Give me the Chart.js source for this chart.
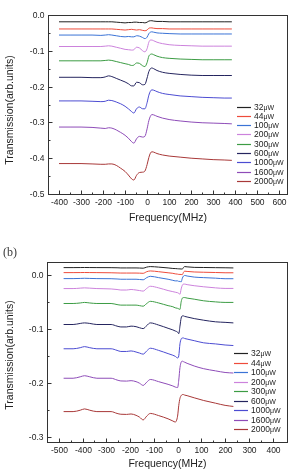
<!DOCTYPE html>
<html>
<head>
<meta charset="utf-8">
<script src="https://cdn.jsdelivr.net/npm/chart.js@4.4.0/dist/chart.umd.min.js"></script>
<style>
html, body { margin: 0; padding: 0; background: #fff; }
body { width: 289px; height: 476px; position: relative; overflow: hidden; }
canvas { position: absolute; left: 0; }
#chartA { top: 0; }
#chartB { top: 240px; }
</style>
</head>
<body>
<canvas id="chartA" width="289" height="230"></canvas>
<canvas id="chartB" width="289" height="236"></canvas>
<script>
// series names + colours (same for both panels)
const powers = ['32', '44', '100', '200', '300', '600', '1000', '1600', '2000']
const colors = ['#222222', '#ee4b3b', '#3b73d6', '#cc82dc', '#3c9c44', '#25255f', '#4c4cd2', '#8e4cb8', '#a83838']

// panel (a)
const freqA = [-400, -350, -300, -250, -210, -190, -175, -160, -140, -120, -100, -85, -70, -60, -48, -35, -20, -10, 0, 8, 15, 22, 30, 45, 70, 100, 150, 200, 250, 300, 350, 385]
const a32 = [-0.019, -0.019, -0.019, -0.019, -0.019, -0.019, -0.019, -0.019, -0.020, -0.021, -0.022, -0.021, -0.021, -0.020, -0.020, -0.021, -0.021, -0.022, -0.020, -0.017, -0.016, -0.016, -0.017, -0.018, -0.018, -0.019, -0.019, -0.019, -0.019, -0.019, -0.019, -0.019]
const a44 = [-0.039, -0.039, -0.039, -0.039, -0.039, -0.039, -0.039, -0.039, -0.040, -0.041, -0.042, -0.041, -0.040, -0.041, -0.042, -0.041, -0.043, -0.044, -0.042, -0.037, -0.036, -0.036, -0.037, -0.038, -0.038, -0.039, -0.039, -0.039, -0.039, -0.039, -0.039, -0.039]
const a100 = [-0.056, -0.056, -0.056, -0.056, -0.057, -0.056, -0.055, -0.056, -0.058, -0.060, -0.061, -0.060, -0.061, -0.061, -0.058, -0.059, -0.063, -0.066, -0.062, -0.052, -0.048, -0.047, -0.048, -0.050, -0.051, -0.052, -0.053, -0.053, -0.053, -0.053, -0.053, -0.053]
const a200 = [-0.088, -0.088, -0.088, -0.088, -0.088, -0.087, -0.086, -0.087, -0.090, -0.093, -0.096, -0.097, -0.098, -0.097, -0.090, -0.092, -0.100, -0.103, -0.094, -0.076, -0.070, -0.070, -0.072, -0.076, -0.080, -0.083, -0.085, -0.086, -0.087, -0.087, -0.087, -0.087]
const a300 = [-0.128, -0.128, -0.128, -0.128, -0.128, -0.127, -0.126, -0.127, -0.130, -0.133, -0.136, -0.138, -0.141, -0.140, -0.134, -0.135, -0.142, -0.144, -0.133, -0.115, -0.110, -0.109, -0.111, -0.115, -0.119, -0.121, -0.123, -0.124, -0.125, -0.125, -0.125, -0.125]
const a600 = [-0.174, -0.174, -0.174, -0.175, -0.175, -0.173, -0.170, -0.172, -0.177, -0.182, -0.187, -0.192, -0.198, -0.198, -0.188, -0.189, -0.195, -0.194, -0.176, -0.158, -0.150, -0.148, -0.150, -0.155, -0.160, -0.163, -0.166, -0.168, -0.169, -0.169, -0.169, -0.169]
const a1000 = [-0.240, -0.240, -0.240, -0.241, -0.242, -0.241, -0.238, -0.239, -0.243, -0.248, -0.255, -0.262, -0.270, -0.274, -0.262, -0.257, -0.262, -0.262, -0.245, -0.224, -0.213, -0.209, -0.210, -0.214, -0.219, -0.222, -0.226, -0.228, -0.230, -0.231, -0.232, -0.232]
const a1600 = [-0.313, -0.313, -0.313, -0.314, -0.316, -0.317, -0.315, -0.316, -0.321, -0.328, -0.336, -0.344, -0.354, -0.358, -0.346, -0.339, -0.341, -0.339, -0.318, -0.295, -0.283, -0.278, -0.279, -0.283, -0.288, -0.292, -0.296, -0.299, -0.301, -0.302, -0.303, -0.304]
const a2000 = [-0.415, -0.415, -0.415, -0.416, -0.417, -0.417, -0.416, -0.416, -0.420, -0.428, -0.437, -0.447, -0.458, -0.461, -0.448, -0.440, -0.439, -0.436, -0.418, -0.398, -0.386, -0.382, -0.383, -0.387, -0.391, -0.394, -0.397, -0.400, -0.402, -0.404, -0.405, -0.406]
const xTicksA = [-400, -300, -200, -100, 0, 100, 200, 300, 400, 500, 600]
const yTicksA = [0, -0.1, -0.2, -0.3, -0.4, -0.5]

// panel (b)
const freqB = [-480, -440, -410, -392, -370, -340, -280, -255, -239, -215, -196, -175, -160, -145, -130, -115, -80, -40, -20, -10, 0, 5, 10, 15, 20, 25, 30, 40, 70, 110, 160, 200, 235]
const b32 = [0.0136, 0.0136, 0.0137, 0.0138, 0.0137, 0.0136, 0.0135, 0.0133, 0.013, 0.013, 0.013, 0.013, 0.0128, 0.0125, 0.0145, 0.0155, 0.0145, 0.013, 0.012, 0.0118, 0.0115, 0.0113, 0.0112, 0.011, 0.011, 0.014, 0.0155, 0.015, 0.014, 0.0138, 0.0135, 0.0133, 0.013]
const b44 = [0.0043, 0.0043, 0.0044, 0.0045, 0.0044, 0.0043, 0.004, 0.0037, 0.0035, 0.0035, 0.0035, 0.0035, 0.0033, 0.003, 0.006, 0.0074, 0.006, 0.004, 0.003, 0.002, 0.0015, 0.001, 0.001, 0.0008, 0.0005, 0.005, 0.007, 0.0065, 0.0055, 0.005, 0.0045, 0.004, 0.004]
const b100 = [-0.0068, -0.0068, -0.0065, -0.0062, -0.0065, -0.0068, -0.007, -0.0075, -0.008, -0.008, -0.008, -0.008, -0.0085, -0.009, -0.005, -0.0025, -0.005, -0.008, -0.010, -0.011, -0.011, -0.012, -0.012, -0.013, -0.006, -0.002, -0.001, -0.002, -0.004, -0.005, -0.006, -0.007, -0.007]
const b200 = [-0.0253, -0.0253, -0.0245, -0.024, -0.0245, -0.0253, -0.026, -0.027, -0.028, -0.028, -0.027, -0.028, -0.029, -0.030, -0.025, -0.021, -0.024, -0.029, -0.031, -0.032, -0.033, -0.034, -0.036, -0.026, -0.019, -0.017, -0.017, -0.018, -0.020, -0.022, -0.024, -0.025, -0.025]
const b300 = [-0.053, -0.053, -0.052, -0.051, -0.052, -0.053, -0.053, -0.055, -0.056, -0.056, -0.056, -0.056, -0.057, -0.058, -0.053, -0.049, -0.052, -0.057, -0.059, -0.061, -0.062, -0.063, -0.064, -0.050, -0.043, -0.042, -0.042, -0.043, -0.045, -0.048, -0.050, -0.051, -0.051]
const b600 = [-0.092, -0.092, -0.090, -0.089, -0.090, -0.092, -0.092, -0.095, -0.0965, -0.0965, -0.095, -0.096, -0.098, -0.0996, -0.094, -0.089, -0.093, -0.099, -0.102, -0.104, -0.106, -0.109, -0.095, -0.080, -0.076, -0.076, -0.077, -0.078, -0.081, -0.084, -0.087, -0.088, -0.089]
const b1000 = [-0.137, -0.137, -0.135, -0.133, -0.135, -0.137, -0.137, -0.140, -0.142, -0.142, -0.141, -0.143, -0.145, -0.147, -0.141, -0.136, -0.140, -0.146, -0.149, -0.151, -0.154, -0.150, -0.128, -0.119, -0.117, -0.117, -0.118, -0.119, -0.122, -0.126, -0.128, -0.130, -0.131]
const b1600 = [-0.1917, -0.1917, -0.189, -0.187, -0.189, -0.1917, -0.1917, -0.195, -0.1967, -0.197, -0.1962, -0.198, -0.201, -0.205, -0.199, -0.194, -0.198, -0.203, -0.206, -0.208, -0.209, -0.195, -0.172, -0.162, -0.160, -0.161, -0.162, -0.164, -0.169, -0.174, -0.178, -0.181, -0.182]
const b2000 = [-0.2536, -0.2536, -0.251, -0.2486, -0.251, -0.2536, -0.2536, -0.257, -0.2585, -0.2588, -0.258, -0.2605, -0.264, -0.269, -0.262, -0.257, -0.261, -0.267, -0.271, -0.273, -0.262, -0.242, -0.229, -0.224, -0.222, -0.222, -0.223, -0.224, -0.228, -0.233, -0.238, -0.242, -0.244]
const xTicksB = [-500, -400, -300, -200, -100, 0, 100, 200, 300, 400]
const yTicksB = [0, -0.1, -0.2, -0.3]

const font = '"Liberation Sans", Arial, sans-serif'

// frame, inward ticks, tick labels, axis titles, panel tag and the in-plot legend
const framePlugin = {
  id: 'frame',
  afterDraw(chart, args, o) {
    const { ctx, chartArea: a } = chart
    const { x, y } = chart.scales
    const L = Math.round(a.left) + 0.5, R = Math.round(a.right) - 0.5
    const T = Math.round(a.top) + 0.5, B = Math.round(a.bottom) + 0.5
    ctx.save()
    ctx.strokeStyle = '#333'
    ctx.lineWidth = 1
    ctx.strokeRect(L, T, R - L, B - T)

    ctx.fillStyle = '#222'
    ctx.font = '8.5px ' + font
    // x ticks
    ctx.textAlign = 'center'
    ctx.textBaseline = 'middle'
    o.xTicks.forEach((v, i) => {
      const px = Math.round(x.getPixelForValue(v)) + 0.5
      ctx.beginPath(); ctx.moveTo(px, B); ctx.lineTo(px, B - 4); ctx.stroke()
      ctx.fillText(String(v), px, B + 8)
      const next = o.xTicks[i + 1]
      if (next !== undefined) {
        const pm = Math.round(x.getPixelForValue((v + next) / 2)) + 0.5
        ctx.beginPath(); ctx.moveTo(pm, B); ctx.lineTo(pm, B - 2); ctx.stroke()
      }
    })
    // y ticks
    ctx.textAlign = 'right'
    o.yTicks.forEach((v, i) => {
      const py = Math.round(y.getPixelForValue(v)) + 0.5
      ctx.beginPath(); ctx.moveTo(L, py); ctx.lineTo(L + 4, py); ctx.stroke()
      ctx.fillText(v.toFixed(1), L - 4, py)
      const next = o.yTicks[i + 1]
      if (next !== undefined) {
        const pm = Math.round(y.getPixelForValue((v + next) / 2)) + 0.5
        ctx.beginPath(); ctx.moveTo(L, pm); ctx.lineTo(L + 2, pm); ctx.stroke()
      }
    })

    // axis titles
    ctx.font = '10.5px ' + font
    ctx.fillStyle = '#222'
    ctx.textAlign = 'center'
    ctx.fillText('Frequency(MHz)', (a.left + a.right) / 2, B + o.xTitleGap)
    ctx.save()
    ctx.translate(10, o.yTitleY)
    ctx.rotate(-Math.PI / 2)
    ctx.fillText('Transmission(arb.units)', 0, 0)
    ctx.restore()

    // panel tag, e.g. "(b)"
    if (o.tag) {
      ctx.font = '12px "Liberation Serif", "DejaVu Serif", serif'
      ctx.fillStyle = '#3a3a3a'
      ctx.textAlign = 'left'
      ctx.fillText(o.tag, 3, 13)
    }

    // legend
    chart.data.datasets.forEach((ds, i) => {
      const ly = Math.round(o.legendTop + i * o.legendStep) + 0.5
      ctx.strokeStyle = ds.borderColor
      ctx.lineWidth = 1.2
      ctx.beginPath(); ctx.moveTo(o.legendX, ly); ctx.lineTo(o.legendX + 14, ly); ctx.stroke()
      ctx.fillStyle = '#222'
      ctx.textAlign = 'left'
      ctx.font = '8.5px ' + font
      const num = powers[i]
      ctx.fillText(num, o.legendX + 17, ly)
      const w = ctx.measureText(num).width
      ctx.font = '7px ' + font
      ctx.fillText('\u03bcW', o.legendX + 17 + w, ly + 0.5)
    })
    ctx.restore()
  }
}

function makeDatasets(freq, series) {
  return series.map((vals, i) => ({
    label: powers[i] + '\u03bcW',
    data: freq.map((f, k) => ({ x: f, y: vals[k] })),
    borderColor: colors[i],
    borderWidth: 1,
    pointRadius: 0,
    cubicInterpolationMode: 'monotone',
    fill: false
  }))
}

function makeChart(id, datasets, opts) {
  return new Chart(document.getElementById(id), {
    type: 'line',
    data: { datasets },
    options: {
      responsive: false,
      animation: false,
      devicePixelRatio: 1,
      layout: { padding: opts.padding },
      scales: {
        x: { type: 'linear', min: opts.xMin, max: opts.xMax, display: false },
        y: { type: 'linear', min: opts.yMin, max: opts.yMax, display: false }
      },
      plugins: {
        legend: { display: false },
        tooltip: { enabled: false },
        frame: opts.frame
      }
    },
    plugins: [framePlugin]
  })
}

makeChart('chartA', makeDatasets(freqA, [a32, a44, a100, a200, a300, a600, a1000, a1600, a2000]), {
  padding: { left: 48, top: 15, right: 1, bottom: 36 },
  xMin: -450, xMax: 640, yMin: -0.5, yMax: 0,
  frame: { xTicks: xTicksA, yTicks: yTicksA, xTitleGap: 24, yTitleY: 110,
           legendX: 237, legendTop: 106.5, legendStep: 9.3 }
})

makeChart('chartB', makeDatasets(freqB, [b32, b44, b100, b200, b300, b600, b1000, b1600, b2000]), {
  padding: { left: 47, top: 22, right: 1, bottom: 34 },
  xMin: -550, xMax: 465, yMin: -0.31, yMax: 0.024,
  frame: { xTicks: xTicksB, yTicks: yTicksB, xTitleGap: 22, yTitleY: 115, tag: '(b)',
           legendX: 234, legendTop: 113, legendStep: 9.5 }
})
</script>
</body>
</html>
